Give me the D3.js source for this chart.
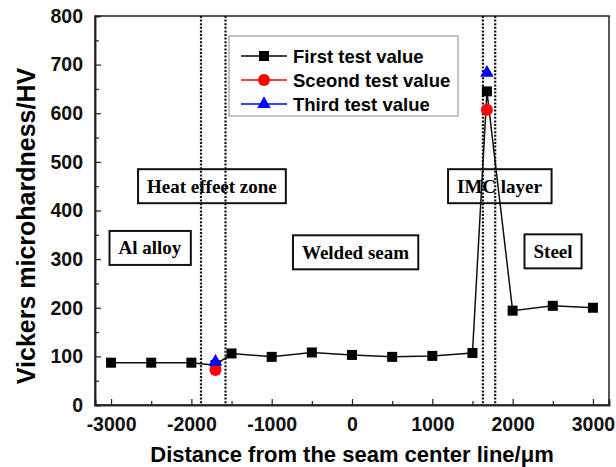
<!DOCTYPE html>
<html>
<head>
<meta charset="utf-8">
<script src="https://cdn.jsdelivr.net/npm/d3@7"></script>
<style>
  body { margin: 0; background: #fff; }
  svg { display: block; }
</style>
</head>
<body>
<div id="chart"></div>
<script>
// distance from seam centre (um) and hardness (HV)
const firstX = [-3000, -2500, -2000, -1700, -1500, -1000, -500, 0, 500, 1000, 1500, 1680, 2000, 2500, 3000];
const firstY = [87, 87, 87, 82, 106, 99, 108, 103, 99, 101, 107, 645, 194, 204, 200];
const secondX = [-1700, 1680];
const secondY = [72, 607];
const thirdX = [-1700, 1680];
const thirdY = [89, 683];
const zoneLines = [-1880, -1575, 1630, 1783];
const zoneLabels = ["Al alloy", "Heat effeet zone", "Welded seam", "IMC layer", "Steel"];
const zoneLabelX = [-2516, -1744, 44, 1837, 2503];
const zoneLabelY = [323, 450, 314, 450, 316];
const legendNames = ["First test value", "Sceond test value", "Third test value"];
const yTicks = [0, 100, 200, 300, 400, 500, 600, 700, 800];
const xTicks = [-3000, -2000, -1000, 0, 1000, 2000, 3000];

const width = 616, height = 467;
const margin = {left: 95, top: 16, right: 7, bottom: 62};
const sans = "Liberation Sans, Arial, sans-serif";

const svg = d3.select("#chart").append("svg")
    .attr("width", width)
    .attr("height", height);

let x = d3.scaleLinear().domain([-3200, 3200]).range([margin.left, width - margin.right]);
let y = d3.scaleLinear().domain([0, 800]).range([height - margin.bottom, margin.top]);

// frame
svg.append("rect")
    .attr("x", x(-3200)).attr("y", y(800))
    .attr("width", x(3200) - x(-3200)).attr("height", y(0) - y(800))
    .attr("fill", "none").attr("stroke", "#222").attr("stroke-width", 1.5);

// axes with inward ticks
svg.append("g")
    .attr("transform", `translate(${x(-3200)},0)`)
    .call(d3.axisLeft(y).tickValues(yTicks).tickSize(-6).tickPadding(12).tickFormat(d3.format("d")));
svg.append("g")
    .attr("transform", `translate(${x(-3200)},0)`)
    .call(d3.axisLeft(y).tickValues(d3.range(50, 800, 100)).tickSize(-4).tickFormat(""));
svg.append("g")
    .attr("transform", `translate(0,${y(0)})`)
    .call(d3.axisBottom(x).tickValues(xTicks).tickSize(-6).tickPadding(12).tickFormat(d => String(d)));
svg.append("g")
    .attr("transform", `translate(0,${y(0)})`)
    .call(d3.axisBottom(x).tickValues(d3.range(-2500, 3000, 1000)).tickSize(-4).tickFormat(""));
svg.selectAll(".domain").attr("stroke", "#222").attr("stroke-width", 1.5);
svg.selectAll(".tick line").attr("stroke", "#222").attr("stroke-width", 1.2);
svg.selectAll(".tick text")
    .attr("font-family", sans)
    .attr("font-weight", "bold")
    .attr("font-size", 19.5)
    .attr("fill", "#111");

// axis titles
svg.append("text")
    .attr("x", (x(-3200) + x(3200)) / 2).attr("y", 462)
    .attr("text-anchor", "middle")
    .attr("font-family", sans)
    .attr("font-weight", "bold").attr("font-size", 22)
    .text("Distance from the seam center line/\u03bcm");
svg.append("text")
    .attr("transform", "translate(35,226) rotate(-90)")
    .attr("text-anchor", "middle")
    .attr("font-family", sans)
    .attr("font-weight", "bold").attr("font-size", 25)
    .text("Vickers microhardness/HV");

// zone boundaries
svg.append("g").selectAll("line").data(zoneLines).enter()
    .append("line")
    .attr("x1", d => x(d)).attr("x2", d => x(d))
    .attr("y1", y(800)).attr("y2", y(0))
    .attr("stroke", "#111").attr("stroke-width", 2.2)
    .attr("stroke-dasharray", "2,1.6");

// zone labels in boxes
let labels = svg.append("g").selectAll("g").data(zoneLabels).enter().append("g");
labels.append("text")
    .attr("x", (d, i) => x(zoneLabelX[i]))
    .attr("y", (d, i) => y(zoneLabelY[i]))
    .attr("text-anchor", "middle")
    .attr("dominant-baseline", "central")
    .attr("font-family", "Liberation Serif, Times New Roman, serif")
    .attr("font-weight", "bold").attr("font-size", 19)
    .text(d => d);
labels.each(function () {
    let g = d3.select(this);
    let b = g.select("text").node().getBBox();
    g.insert("rect", "text")
        .attr("x", b.x - 9).attr("y", b.y + b.height / 2 - 17)
        .attr("width", b.width + 18).attr("height", 34)
        .attr("fill", "none").attr("stroke", "#111").attr("stroke-width", 2);
});

// first test series line and markers
let line = d3.line().x((d, i) => x(firstX[i])).y(d => y(d));
svg.append("path").datum(firstY)
    .attr("d", line)
    .attr("fill", "none").attr("stroke", "#111").attr("stroke-width", 1.5);
svg.append("g").selectAll("rect").data(firstY).enter()
    .append("rect")
    .attr("x", (d, i) => x(firstX[i]) - 5)
    .attr("y", d => y(d) - 5)
    .attr("width", 10).attr("height", 10)
    .attr("fill", "#000");

// second and third test values
svg.append("g").selectAll("circle").data(secondY).enter()
    .append("circle")
    .attr("cx", (d, i) => x(secondX[i]))
    .attr("cy", d => y(d))
    .attr("r", 6)
    .attr("fill", "#f00");
let tri = d3.symbol().type(d3.symbolTriangle).size(80);
svg.append("g").selectAll("path").data(thirdY).enter()
    .append("path")
    .attr("d", tri)
    .attr("transform", (d, i) => `translate(${x(thirdX[i])},${y(d)})`)
    .attr("fill", "#00f");

// legend
let leg = svg.append("g");
leg.append("rect")
    .attr("x", 229).attr("y", 36).attr("width", 229).attr("height", 80)
    .attr("fill", "#fff").attr("stroke", "#888").attr("stroke-width", 1);
let legColors = ["#000", "#f00", "#00f"];
legendNames.forEach(function (name, i) {
    let cy = 56 + i * 24;
    leg.append("line")
        .attr("x1", 241).attr("x2", 287).attr("y1", cy).attr("y2", cy)
        .attr("stroke", legColors[i]).attr("stroke-width", 1.5);
    if (i == 0) {
        leg.append("rect").attr("x", 259).attr("y", cy - 5).attr("width", 10).attr("height", 10).attr("fill", "#000");
    } else if (i == 1) {
        leg.append("circle").attr("cx", 264).attr("cy", cy).attr("r", 6).attr("fill", "#f00");
    } else {
        leg.append("path").attr("d", tri).attr("transform", `translate(264,${cy})`).attr("fill", "#00f");
    }
    leg.append("text")
        .attr("x", 293).attr("y", cy)
        .attr("dominant-baseline", "central")
        .attr("font-family", sans)
        .attr("font-weight", "bold").attr("font-size", 18.5)
        .text(name);
});
</script>
</body>
</html>
